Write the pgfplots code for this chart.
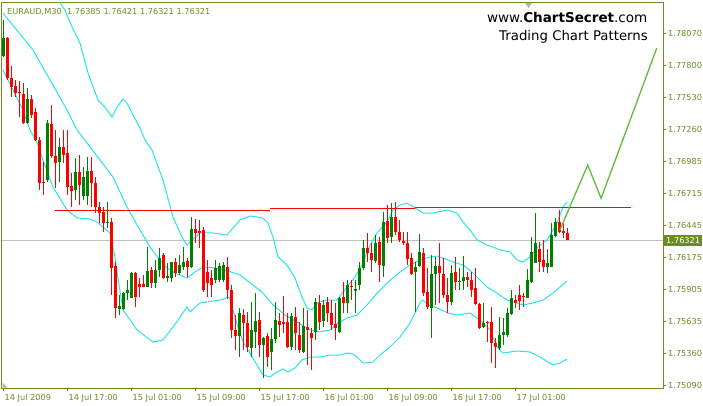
\documentclass[border=0pt]{standalone}
\usepackage{pgfplots}
\usepackage{pgfplotstable}
\pgfplotsset{compat=1.18}
\usepackage{fontspec}
\setmainfont{DejaVu Sans}

\definecolor{mtolive}{RGB}{107,142,35}
\definecolor{candleup}{RGB}{0,128,0}
\definecolor{candledn}{RGB}{255,0,0}
\definecolor{bband}{RGB}{40,228,238}
\definecolor{pline}{RGB}{192,192,192}
\definecolor{proj}{RGB}{96,186,60}

% EURAUD M30: open high low close
\pgfplotstableread{
O H L C
1.77879 1.78183 1.77870 1.78031
1.78031 1.78039 1.77676 1.77692
1.77692 1.77794 1.77532 1.77616
1.77625 1.77676 1.77532 1.77566
1.77574 1.77667 1.77363 1.77566
1.77557 1.77650 1.77304 1.77312
1.77312 1.77608 1.77304 1.77515
1.77515 1.77549 1.77354 1.77380
1.77405 1.77439 1.77160 1.77168
1.77168 1.77194 1.76745 1.76805
1.76813 1.76982 1.76703 1.76805
1.76830 1.77337 1.76813 1.77312
1.77304 1.77464 1.77016 1.77033
1.77033 1.77253 1.76762 1.76974
1.76982 1.77185 1.76813 1.77109
1.77109 1.77253 1.76974 1.77041
1.77058 1.77253 1.76703 1.76771
1.76779 1.76889 1.76602 1.76737
1.76745 1.77016 1.76661 1.76898
1.76898 1.77041 1.76619 1.76788
1.76695 1.76940 1.76661 1.76855
1.76695 1.77024 1.76619 1.76906
1.76906 1.77024 1.76602 1.76805
1.76805 1.76855 1.76551 1.76602
1.76602 1.76644 1.76466 1.76551
1.76559 1.76602 1.76390 1.76466
1.76466 1.76644 1.76424 1.76475
1.76475 1.76509 1.75858 1.76086
1.76103 1.76137 1.75663 1.75748
1.75739 1.75858 1.75688 1.75765
1.75739 1.75883 1.75731 1.75874
1.75874 1.75984 1.75815 1.75900
1.75832 1.76052 1.75832 1.76044
1.76044 1.76052 1.75756 1.75841
1.75951 1.76001 1.75841 1.75925
1.75951 1.76027 1.75925 1.75925
1.75925 1.76263 1.75925 1.76060
1.76069 1.76094 1.75917 1.75959
1.75959 1.76153 1.75917 1.76069
1.76069 1.76255 1.76010 1.76170
1.76196 1.76213 1.75993 1.76001
1.76001 1.76128 1.75967 1.76018
1.76001 1.76137 1.75967 1.76137
1.76137 1.76170 1.76010 1.76044
1.76044 1.76196 1.76027 1.76111
1.76094 1.76263 1.76069 1.76137
1.76145 1.76170 1.76010 1.76094
1.76094 1.76517 1.76086 1.76416
1.76416 1.76500 1.76297 1.76382
1.76399 1.76492 1.76255 1.76382
1.76407 1.76433 1.75883 1.75900
1.76052 1.76153 1.75841 1.75959
1.76001 1.76069 1.75841 1.75942
1.75984 1.76153 1.75959 1.76086
1.75984 1.76128 1.75967 1.76103
1.75984 1.76137 1.75967 1.76111
1.76094 1.76179 1.75824 1.75900
1.75900 1.75942 1.75494 1.75562
1.75562 1.75688 1.75392 1.75511
1.75511 1.75748 1.75333 1.75705
1.75688 1.75739 1.75392 1.75621
1.75621 1.75714 1.75376 1.75418
1.75409 1.75798 1.75333 1.75562
1.75545 1.75874 1.75409 1.75638
1.75646 1.75714 1.75333 1.75435
1.75435 1.75502 1.75156 1.75494
1.75511 1.75536 1.75249 1.75333
1.75376 1.75578 1.75223 1.75485
1.75485 1.75798 1.75452 1.75646
1.75638 1.75705 1.75502 1.75604
1.75629 1.75849 1.75536 1.75612
1.75629 1.75705 1.75409 1.75418
1.75418 1.75705 1.75392 1.75680
1.75671 1.75756 1.75392 1.75536
1.75519 1.75629 1.75367 1.75392
1.75376 1.75748 1.75367 1.75595
1.75587 1.75731 1.75266 1.75562
1.75536 1.75578 1.75223 1.75494
1.75545 1.75832 1.75477 1.75798
1.75790 1.75858 1.75562 1.75629
1.75638 1.75815 1.75587 1.75773
1.75798 1.75841 1.75629 1.75705
1.75705 1.75815 1.75562 1.75604
1.75612 1.75790 1.75477 1.75578
1.75545 1.75841 1.75536 1.75832
1.75841 1.75967 1.75705 1.75790
1.75790 1.75984 1.75705 1.75942
1.75934 1.75984 1.75815 1.75925
1.75891 1.75984 1.75705 1.75908
1.75942 1.76137 1.75900 1.76086
1.76086 1.76323 1.76069 1.76255
1.76255 1.76382 1.76137 1.76213
1.76213 1.76297 1.76052 1.76153
1.76145 1.76365 1.76128 1.76297
1.76306 1.76348 1.75967 1.76111
1.76103 1.76559 1.76010 1.76475
1.76483 1.76619 1.76297 1.76339
1.76348 1.76635 1.76297 1.76517
1.76517 1.76644 1.76365 1.76390
1.76390 1.76492 1.76306 1.76323
1.76314 1.76390 1.76280 1.76297
1.76297 1.76390 1.76111 1.76162
1.76170 1.76213 1.76027 1.76035
1.76052 1.76137 1.75714 1.76094
1.76103 1.76373 1.76094 1.76221
1.76213 1.76255 1.75849 1.75874
1.75883 1.76086 1.75739 1.75756
1.75748 1.76196 1.75494 1.76035
1.76035 1.76179 1.75773 1.76103
1.76103 1.76297 1.75790 1.76044
1.76035 1.76170 1.75832 1.75858
1.75858 1.76001 1.75705 1.75798
1.75798 1.76111 1.75773 1.76044
1.76052 1.76179 1.75900 1.75967
1.75967 1.76086 1.75900 1.75976
1.75976 1.76187 1.75900 1.76010
1.76010 1.76052 1.75925 1.75984
1.75984 1.76052 1.75841 1.75900
1.75917 1.76086 1.75773 1.75781
1.75781 1.75790 1.75570 1.75578
1.75587 1.75790 1.75578 1.75621
1.75629 1.75638 1.75460 1.75621
1.75629 1.75756 1.75282 1.75452
1.75452 1.75494 1.75240 1.75418
1.75409 1.75671 1.75392 1.75519
1.75519 1.75663 1.75435 1.75545
1.75519 1.75748 1.75502 1.75705
1.75697 1.75900 1.75688 1.75832
1.75815 1.75858 1.75748 1.75790
1.75858 1.75942 1.75731 1.75807
1.75849 1.75874 1.75756 1.75841
1.75832 1.76077 1.75832 1.75984
1.75967 1.76348 1.75959 1.76221
1.76128 1.76551 1.76128 1.76297
1.76247 1.76306 1.76052 1.76137
1.76153 1.76323 1.76052 1.76094
1.76094 1.76247 1.76044 1.76128
1.76094 1.76466 1.76094 1.76365
1.76356 1.76509 1.76348 1.76475
1.76475 1.76576 1.76382 1.76390
1.76399 1.76466 1.76339 1.76382
1.76385 1.76421 1.76321 1.76321
}\ohlc

% candles are drawn as upward error bars: thin for the wick, thick for the body
\pgfplotsset{
  cstick/.style 2 args={draw=none, mark=none, forget plot,
    error bars/.cd, y dir=plus, y explicit, error mark=none,
    error bar style={draw=#1, line width=#2, line cap=butt, solid}},
}

\begin{document}
\begin{tikzpicture}[x=1pt,y=1pt]
\fill[white] (0,0) rectangle (703,405);
\useasboundingbox (0,0) rectangle (703,405);
\begin{axis}[
  at={(2pt,17pt)}, anchor=south west,
  scale only axis, width=661pt, height=385pt,
  xmin=-0.375, xmax=164.875, ymin=1.75071, ymax=1.78327,
  axis line style={mtolive, line width=1pt},
  xtick={0,16,32,48,64,80,96,112,128},
  xticklabels={14 Jul 2009,14 Jul 17:00,15 Jul 01:00,15 Jul 09:00,15 Jul 17:00,16 Jul 01:00,16 Jul 09:00,16 Jul 17:00,17 Jul 01:00},
  ytick={1.75090,1.75360,1.75635,1.75905,1.76175,1.76445,1.76715,1.76985,1.77260,1.77530,1.77800,1.78070},
  yticklabels={1.75090,1.75360,1.75635,1.75905,1.76175,1.76445,1.76715,1.76985,1.77260,1.77530,1.77800,1.78070},
  xtick pos=bottom, ytick pos=right, yticklabel pos=right,
  tick align=outside, major tick length=3pt,
  tick style={mtolive, line width=1pt},
  ticklabel style={font=\fontsize{8.2}{9}\selectfont, text=mtolive, inner sep=0pt},
  xticklabel style={anchor=north west, xshift=1pt, yshift=-3pt},
  yticklabel style={anchor=west, xshift=2pt},
]
% current price line
\addplot[pline, line width=1pt] coordinates {(-0.375,1.76321) (164.875,1.76321)};

% Bollinger bands
\addplot[bband, line width=1pt] coordinates {
(12.125,1.78437) (13.625,1.78352) (15.375,1.78267) (17.125,1.78124) (19.125,1.77988)
(21.125,1.77735) (23.625,1.77506) (24.875,1.77464) (25.875,1.77422) (27.125,1.77363)
(28.375,1.77447) (29.875,1.77515) (30.875,1.77481) (32.375,1.77380) (34.125,1.77270)
(35.375,1.77168) (37.125,1.77084) (39.875,1.76830) (42.375,1.76517) (44.625,1.76348)
(45.875,1.76280) (47.125,1.76323) (49.125,1.76382) (52.375,1.76382) (55.875,1.76365)
(57.375,1.76424) (59.125,1.76492) (61.625,1.76526) (64.875,1.76509) (66.125,1.76466)
(67.375,1.76348) (68.625,1.76179) (70.875,1.76111) (72.875,1.76001) (74.625,1.75841)
(75.875,1.75748) (77.125,1.75731) (78.375,1.75790) (80.875,1.75815) (83.375,1.75815)
(85.875,1.75925) (87.875,1.76010) (89.625,1.76111) (91.625,1.76280) (93.375,1.76382)
(95.875,1.76475) (97.375,1.76576) (99.125,1.76619) (100.875,1.76635) (102.875,1.76593)
(104.875,1.76551) (107.375,1.76551) (110.875,1.76576) (113.375,1.76551) (114.875,1.76475)
(116.625,1.76407) (118.375,1.76323) (120.875,1.76280) (122.375,1.76263) (124.125,1.76238)
(126.625,1.76221) (128.375,1.76153) (129.875,1.76137) (131.625,1.76179) (133.375,1.76255)
(135.875,1.76323) (138.375,1.76466) (139.875,1.76602) (140.875,1.76644)};
\addplot[bband, line width=1pt] coordinates {
(-0.125,1.78242) (7.375,1.77929) (15.875,1.77422) (18.375,1.77253) (20.875,1.77143)
(24.125,1.76999) (27.375,1.76855) (30.875,1.76602) (34.125,1.76407) (36.625,1.76263)
(39.125,1.76153) (40.875,1.76086) (42.875,1.76044) (45.875,1.76001) (47.875,1.76052)
(49.875,1.76094) (52.875,1.76086) (55.375,1.76069) (59.125,1.76027) (62.375,1.75942)
(64.875,1.75874) (67.375,1.75773) (70.375,1.75688) (73.375,1.75629) (76.625,1.75562)
(79.125,1.75545) (81.625,1.75562) (83.625,1.75621) (85.875,1.75663) (88.375,1.75688)
(90.875,1.75773) (93.375,1.75874) (95.875,1.75959) (99.125,1.76052) (101.625,1.76111)
(104.125,1.76153) (106.625,1.76179) (108.375,1.76187) (109.875,1.76170) (112.375,1.76137)
(114.875,1.76111) (117.125,1.76052) (118.375,1.76010) (120.875,1.75925) (123.375,1.75874)
(125.875,1.75815) (128.375,1.75790) (129.875,1.75773) (132.375,1.75790) (134.875,1.75815)
(137.375,1.75874) (139.125,1.75925) (140.875,1.75976)};
\addplot[bband, line width=1pt] coordinates {
(-0.125,1.77760) (2.375,1.77591) (4.625,1.77439) (6.625,1.77253) (8.375,1.77151)
(9.875,1.76999) (12.375,1.76771) (15.875,1.76576) (18.375,1.76509) (21.625,1.76500)
(23.375,1.76475) (24.875,1.76433) (26.625,1.76382) (27.875,1.76179) (28.375,1.76052)
(29.875,1.75731) (33.375,1.75562) (37.375,1.75460) (39.875,1.75477) (42.375,1.75587)
(45.875,1.75756) (46.625,1.75714) (49.125,1.75790) (54.125,1.75815) (56.375,1.75841)
(57.375,1.75731) (58.625,1.75587) (59.875,1.75460) (61.625,1.75367) (63.375,1.75266)
(64.875,1.75181) (66.625,1.75164) (68.375,1.75206) (69.875,1.75232) (71.125,1.75206)
(72.875,1.75240) (74.625,1.75308) (76.625,1.75333) (79.125,1.75333) (81.625,1.75350)
(84.125,1.75350) (85.875,1.75367) (87.375,1.75359) (88.375,1.75333) (89.875,1.75282)
(92.375,1.75291) (94.125,1.75350) (96.625,1.75418) (99.125,1.75502) (101.625,1.75621)
(104.125,1.75790) (104.875,1.75815) (106.125,1.75773) (108.375,1.75748) (111.125,1.75705)
(113.375,1.75688) (116.625,1.75705) (118.375,1.75663) (119.875,1.75621) (121.625,1.75562)
(123.375,1.75418) (124.875,1.75367) (128.375,1.75384) (131.625,1.75376) (134.125,1.75333)
(137.375,1.75266) (139.125,1.75282) (140.875,1.75316)};

% neckline (horizontal line objects)
\addplot[candledn, line width=1pt] coordinates {(12.875,1.76570) (66.625,1.76570)};
\addplot[candledn, line width=1pt] coordinates {(66.625,1.76585) (102.875,1.76585)};
\addplot[candledn, line width=1pt] coordinates {(102.875,1.76597) (156.8,1.76597)};

% candles: wicks then bodies
\addplot[cstick={candleup}{1pt}] table[x expr=\coordindex, y=L,
  y error plus expr={ifthenelse(\thisrow{C}>\thisrow{O},\thisrow{H}-\thisrow{L},0)}] {\ohlc};
\addplot[cstick={candledn}{1pt}] table[x expr=\coordindex, y=L,
  y error plus expr={ifthenelse(\thisrow{C}>\thisrow{O},0,\thisrow{H}-\thisrow{L})}] {\ohlc};
\addplot[cstick={candleup}{3pt}] table[x expr=\coordindex, y=O,
  y error plus expr={max(\thisrow{C}-\thisrow{O},0)}] {\ohlc};
\addplot[cstick={candledn}{3pt}] table[x expr=\coordindex, y=C,
  y error plus expr={max(\thisrow{O}-\thisrow{C},0)}] {\ohlc};

% projected move
\addplot[proj, line width=1.3pt] coordinates {(139.1,1.76407) (146.05,1.76957) (149.4,1.76675) (163.3,1.77944)};

\coordinate (pr) at (axis cs:164.875,1.76321);
\end{axis}

\node[fill=mtolive, text=white, font=\fontsize{8.2}{9}\selectfont, inner xsep=2pt, inner ysep=0pt,
  minimum height=11pt, anchor=west] at ([xshift=1pt]pr) {1.76321};
\node[anchor=base west, text=mtolive, font=\fontsize{8.2}{9}\selectfont, inner sep=0pt]
  at (7,390.5) {EURAUD,M30\ \ 1.76385 1.76421 1.76321 1.76321};
\node[anchor=base east, font=\fontsize{13.5}{15}\selectfont, inner sep=0pt]
  at (647.5,382.3) {www.\textbf{ChartSecret}.com};
\node[anchor=base east, font=\fontsize{13.3}{15}\selectfont, inner sep=0pt]
  at (648,364.5) {Trading Chart Patterns};
\fill[gray!60] (525,402) -- (532,402) -- (528.5,397) -- cycle;
\fill[gray!60] (2.5,17.5) -- (2.5,22.5) -- (7.5,17.5) -- cycle;
\end{tikzpicture}
\end{document}
